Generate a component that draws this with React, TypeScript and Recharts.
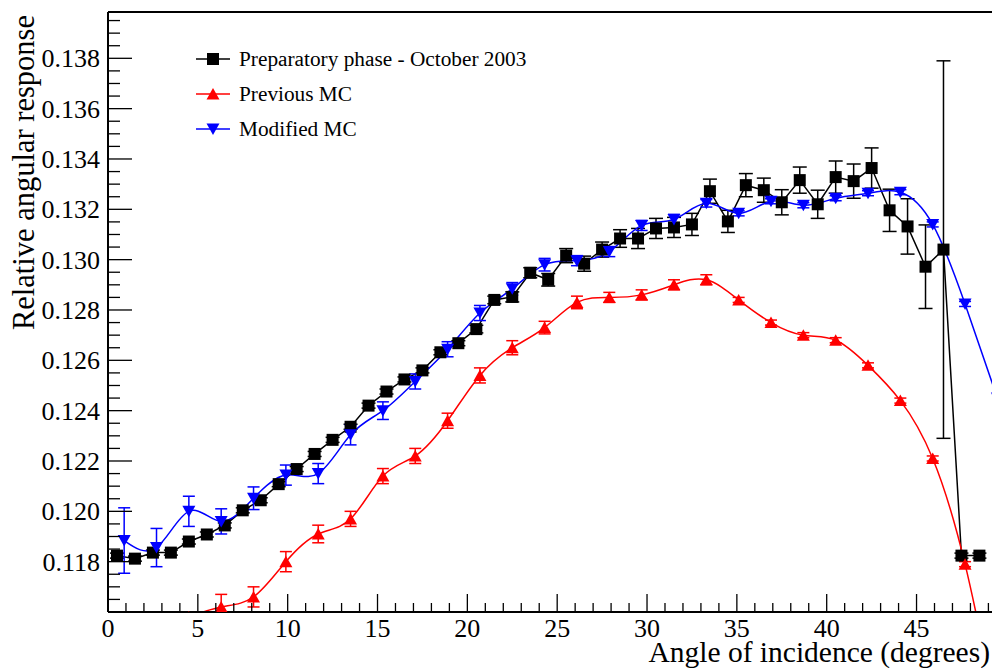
import { LineChart, Line, XAxis, YAxis, ErrorBar, ReferenceLine } from 'recharts';

// data
const prepAngle = [
  0.5, 1.5, 2.5, 3.5, 4.5, 5.5, 6.5, 7.5, 8.5, 9.5, 10.5, 11.5, 12.5, 13.5, 14.5, 15.5, 16.5,
  17.5, 18.5, 19.5, 20.5, 21.5, 22.5, 23.5, 24.5, 25.5, 26.5, 27.5, 28.5, 29.5, 30.5, 31.5,
  32.5, 33.5, 34.5, 35.5, 36.5, 37.5, 38.5, 39.5, 40.5, 41.5, 42.5, 43.5, 44.5, 45.5, 46.5,
  47.5, 48.5,
];
const prepResponse = [
  0.11824, 0.11812, 0.11836, 0.11836, 0.1188, 0.11908, 0.11944, 0.12004, 0.12044, 0.12108,
  0.12168, 0.12228, 0.12284, 0.12336, 0.1242, 0.12476, 0.12524, 0.1256, 0.12632, 0.12668,
  0.12724, 0.1284, 0.12852, 0.12948, 0.1292, 0.13016, 0.12984, 0.1304, 0.13084, 0.13084,
  0.13124, 0.13128, 0.1314, 0.13272, 0.13152, 0.13296, 0.13276, 0.13228, 0.13316, 0.1322,
  0.13328, 0.13312, 0.13364, 0.13196, 0.13132, 0.12972, 0.1304, 0.11824, 0.11824,
];
const prepError = [
  0.0001, 0.0001, 0.0001, 0.0001, 0.0001, 0.0001, 0.0001, 0.0001, 0.0001, 0.0001,
  0.0001, 0.0001, 0.0001, 0.0001, 0.0001, 0.0001, 0.0001, 0.0001, 0.0001, 0.0001,
  0.00015, 0.00015, 0.0002, 0.0002, 0.00025, 0.00028, 0.0003, 0.0003, 0.00035, 0.0004,
  0.0004, 0.0004, 0.00044, 0.00048, 0.00044, 0.00046, 0.00048, 0.0005, 0.00052, 0.00056,
  0.00064, 0.00068, 0.0008, 0.00084, 0.0011, 0.00166, 0.0075, 0.0001, 0.0001,
];

const prevAngle = [
  4.5, 6.3, 8.1, 9.9, 11.7, 13.5, 15.3, 17.1, 18.9, 20.7, 22.5, 24.3, 26.1,
  27.9, 29.7, 31.5, 33.3, 35.1, 36.9, 38.7, 40.5, 42.3, 44.1, 45.9, 47.7, 49.5,
];
const prevResponse = [
  0.1158, 0.1162, 0.1166, 0.1180, 0.1191, 0.1197, 0.1214, 0.1222, 0.1236, 0.1254, 0.1265,
  0.1273, 0.1283, 0.1285, 0.1286, 0.1290, 0.1292, 0.1284, 0.1275, 0.1270, 0.1268, 0.1258,
  0.1244, 0.1221, 0.1179, 0.1118,
];
// first point sits below the frame, its bar is not shown
const prevError = [
  0, 0.0005, 0.0004, 0.0004, 0.00035, 0.0003, 0.0003, 0.0003, 0.0003, 0.0003, 0.00028,
  0.00025, 0.00025, 0.0002, 0.0002, 0.0002, 0.0002, 0.0001, 0.0001, 0.0001, 0.0001, 0.0001,
  0.0001, 0.0001, 0.0001, 0,
];

const modAngle = [
  0.9, 2.7, 4.5, 6.3, 8.1, 9.9, 11.7, 13.5, 15.3, 17.1, 18.9, 20.7, 22.5, 24.3, 26.1,
  27.9, 29.7, 31.5, 33.3, 35.1, 36.9, 38.7, 40.5, 42.3, 44.1, 45.9, 47.7, 49.5,
];
const modResponse = [
  0.11884, 0.11856, 0.1200, 0.1196, 0.12052, 0.12144, 0.1215, 0.12304, 0.1240, 0.12516,
  0.12644, 0.12788, 0.12884, 0.1298, 0.12996, 0.13032, 0.13136, 0.1316, 0.13224, 0.13184,
  0.13232, 0.13216, 0.13244, 0.13264, 0.13268, 0.1314, 0.12824, 0.1245,
];
const modError = [
  0.0013, 0.00076, 0.0006, 0.0005, 0.00045, 0.0004, 0.0004, 0.0004, 0.00035, 0.0003,
  0.0003, 0.0003, 0.00025, 0.00025, 0.0002, 0.0002, 0.0002, 0.0002, 0.00015, 0.0001,
  0.0001, 0.0001, 0.0001, 0.0001, 0.0001, 0.0001, 0.0001, 0,
];

const xMajorTicks = [0, 5, 10, 15, 20, 25, 30, 35, 40, 45];
const yMajorTicks = [0.118, 0.12, 0.122, 0.124, 0.126, 0.128, 0.13, 0.132, 0.134, 0.136, 0.138];

const X_MAX = 49.2;
const Y_MIN = 0.116;
const Y_MAX = 0.13984;
const FONT = '"Liberation Serif", "Times New Roman", serif';

// error bars are cut at the bottom of the frame, as in the original
const toRows = (xs: number[], ys: number[], es: number[]) =>
  xs.map((x, i) => ({
    x,
    y: ys[i],
    err: es[i] > 0 && ys[i] > Y_MIN ? [Math.min(es[i], ys[i] - Y_MIN), es[i]] : null,
  }));

const prepData = toRows(prepAngle, prepResponse, prepError);
const prevData = toRows(prevAngle, prevResponse, prevError);
const modData = toRows(modAngle, modResponse, modError);

// minor ticks: 1 degree on x, 0.0005 on y
const xTicks: number[] = [];
for (let i = 0; i <= 49; i++) xTicks.push(i);
const yTicks: number[] = [];
for (let i = 1; i <= 47; i++) yTicks.push(+(Y_MIN + i * 0.0005).toFixed(4));

const isMajor = (list: number[], v: number) => list.some((m) => Math.abs(m - v) < 1e-7);

const XTick = (props: any) => {
  const { x, y, payload } = props;
  const major = isMajor(xMajorTicks, payload.value);
  return (
    <g>
      <line x1={x} x2={x} y1={y} y2={y - (major ? 18 : 9)} stroke="#000" strokeWidth={1.3} />
      {major && (
        <text x={x} y={y + 25} textAnchor="middle" fontSize={26} fontFamily={FONT} fill="#000">
          {payload.value}
        </text>
      )}
    </g>
  );
};

const YTick = (props: any) => {
  const { x, y, payload } = props;
  const major = isMajor(yMajorTicks, payload.value);
  return (
    <g>
      <line x1={x} x2={x + (major ? 24 : 12)} y1={y} y2={y} stroke="#000" strokeWidth={1.3} />
      {major && (
        <text x={x - 8} y={y + 9} textAnchor="end" fontSize={26} fontFamily={FONT} fill="#000">
          {payload.value.toFixed(3)}
        </text>
      )}
    </g>
  );
};

const squareDot = (p: any) => {
  if (p.cx == null || p.cy == null) return <g key={p.index} />;
  return <rect key={p.index} x={p.cx - 6} y={p.cy - 6} width={12} height={12} fill="#000" />;
};
const upDot = (p: any) => {
  if (p.cx == null || p.cy == null) return <g key={p.index} />;
  const { cx, cy } = p;
  return <polygon key={p.index} points={`${cx},${cy - 6} ${cx - 6.5},${cy + 5.5} ${cx + 6.5},${cy + 5.5}`} fill="#ff0000" />;
};
const downDot = (p: any) => {
  if (p.cx == null || p.cy == null) return <g key={p.index} />;
  const { cx, cy } = p;
  return <polygon key={p.index} points={`${cx},${cy + 6} ${cx - 6.5},${cy - 5.5} ${cx + 6.5},${cy - 5.5}`} fill="#0000ff" />;
};

const legendRows = [
  { label: 'Preparatory phase - October 2003', color: '#000', dot: squareDot },
  { label: 'Previous MC', color: '#ff0000', dot: upDot },
  { label: 'Modified MC', color: '#0000ff', dot: downDot },
];

export default function App() {
  return (
    <div style={{ position: 'absolute', left: 0, top: 0, width: 992, height: 668, background: '#fff' }}>
      <LineChart width={992} height={668} margin={{ top: 12, right: 0, bottom: 0, left: 0 }}>
        <XAxis
          type="number"
          dataKey="x"
          domain={[0, X_MAX]}
          allowDataOverflow
          ticks={xTicks}
          interval={0}
          tick={<XTick />}
          tickLine={false}
          tickSize={0}
          tickMargin={0}
          height={56}
          axisLine={{ stroke: '#000', strokeWidth: 2 }}
        />
        <YAxis
          type="number"
          dataKey="y"
          domain={[Y_MIN, Y_MAX]}
          allowDataOverflow
          ticks={yTicks}
          interval={0}
          tick={<YTick />}
          tickLine={false}
          tickSize={0}
          tickMargin={0}
          width={108}
          axisLine={{ stroke: '#000', strokeWidth: 2 }}
        />
        <ReferenceLine y={Y_MAX} stroke="#000" strokeWidth={2} />
        <Line data={prepData} dataKey="y" type="linear" stroke="#000" strokeWidth={1.5} dot={squareDot} isAnimationActive={false}>
          <ErrorBar dataKey="err" width={7} stroke="#000" strokeWidth={1.5} isAnimationActive={false} />
        </Line>
        <Line data={prevData} dataKey="y" type="natural" stroke="#ff0000" strokeWidth={1.5} dot={upDot} isAnimationActive={false}>
          <ErrorBar dataKey="err" width={6} stroke="#ff0000" strokeWidth={1.5} isAnimationActive={false} />
        </Line>
        <Line data={modData} dataKey="y" type="natural" stroke="#0000ff" strokeWidth={1.5} dot={downDot} isAnimationActive={false}>
          <ErrorBar dataKey="err" width={6} stroke="#0000ff" strokeWidth={1.5} isAnimationActive={false} />
        </Line>
        <g>
          {legendRows.map((r, i) => (
            <g key={r.label}>
              <line x1={196} x2={230} y1={59 + i * 35} y2={59 + i * 35} stroke={r.color} strokeWidth={1.5} />
              {r.dot({ cx: 213, cy: 59 + i * 35, index: i })}
              <text x={239} y={66 + i * 35} fontSize={21.3} fontFamily={FONT} fill="#000">
                {r.label}
              </text>
            </g>
          ))}
        </g>
        <text
          transform="translate(34,15) rotate(-90)"
          textAnchor="end"
          fontSize={30.5}
          fontFamily={FONT}
          fill="#000"
        >
          Relative angular response
        </text>
        <text x={990} y={662} textAnchor="end" fontSize={29.5} fontFamily={FONT} fill="#000">
          Angle of incidence (degrees)
        </text>
      </LineChart>
    </div>
  );
}
